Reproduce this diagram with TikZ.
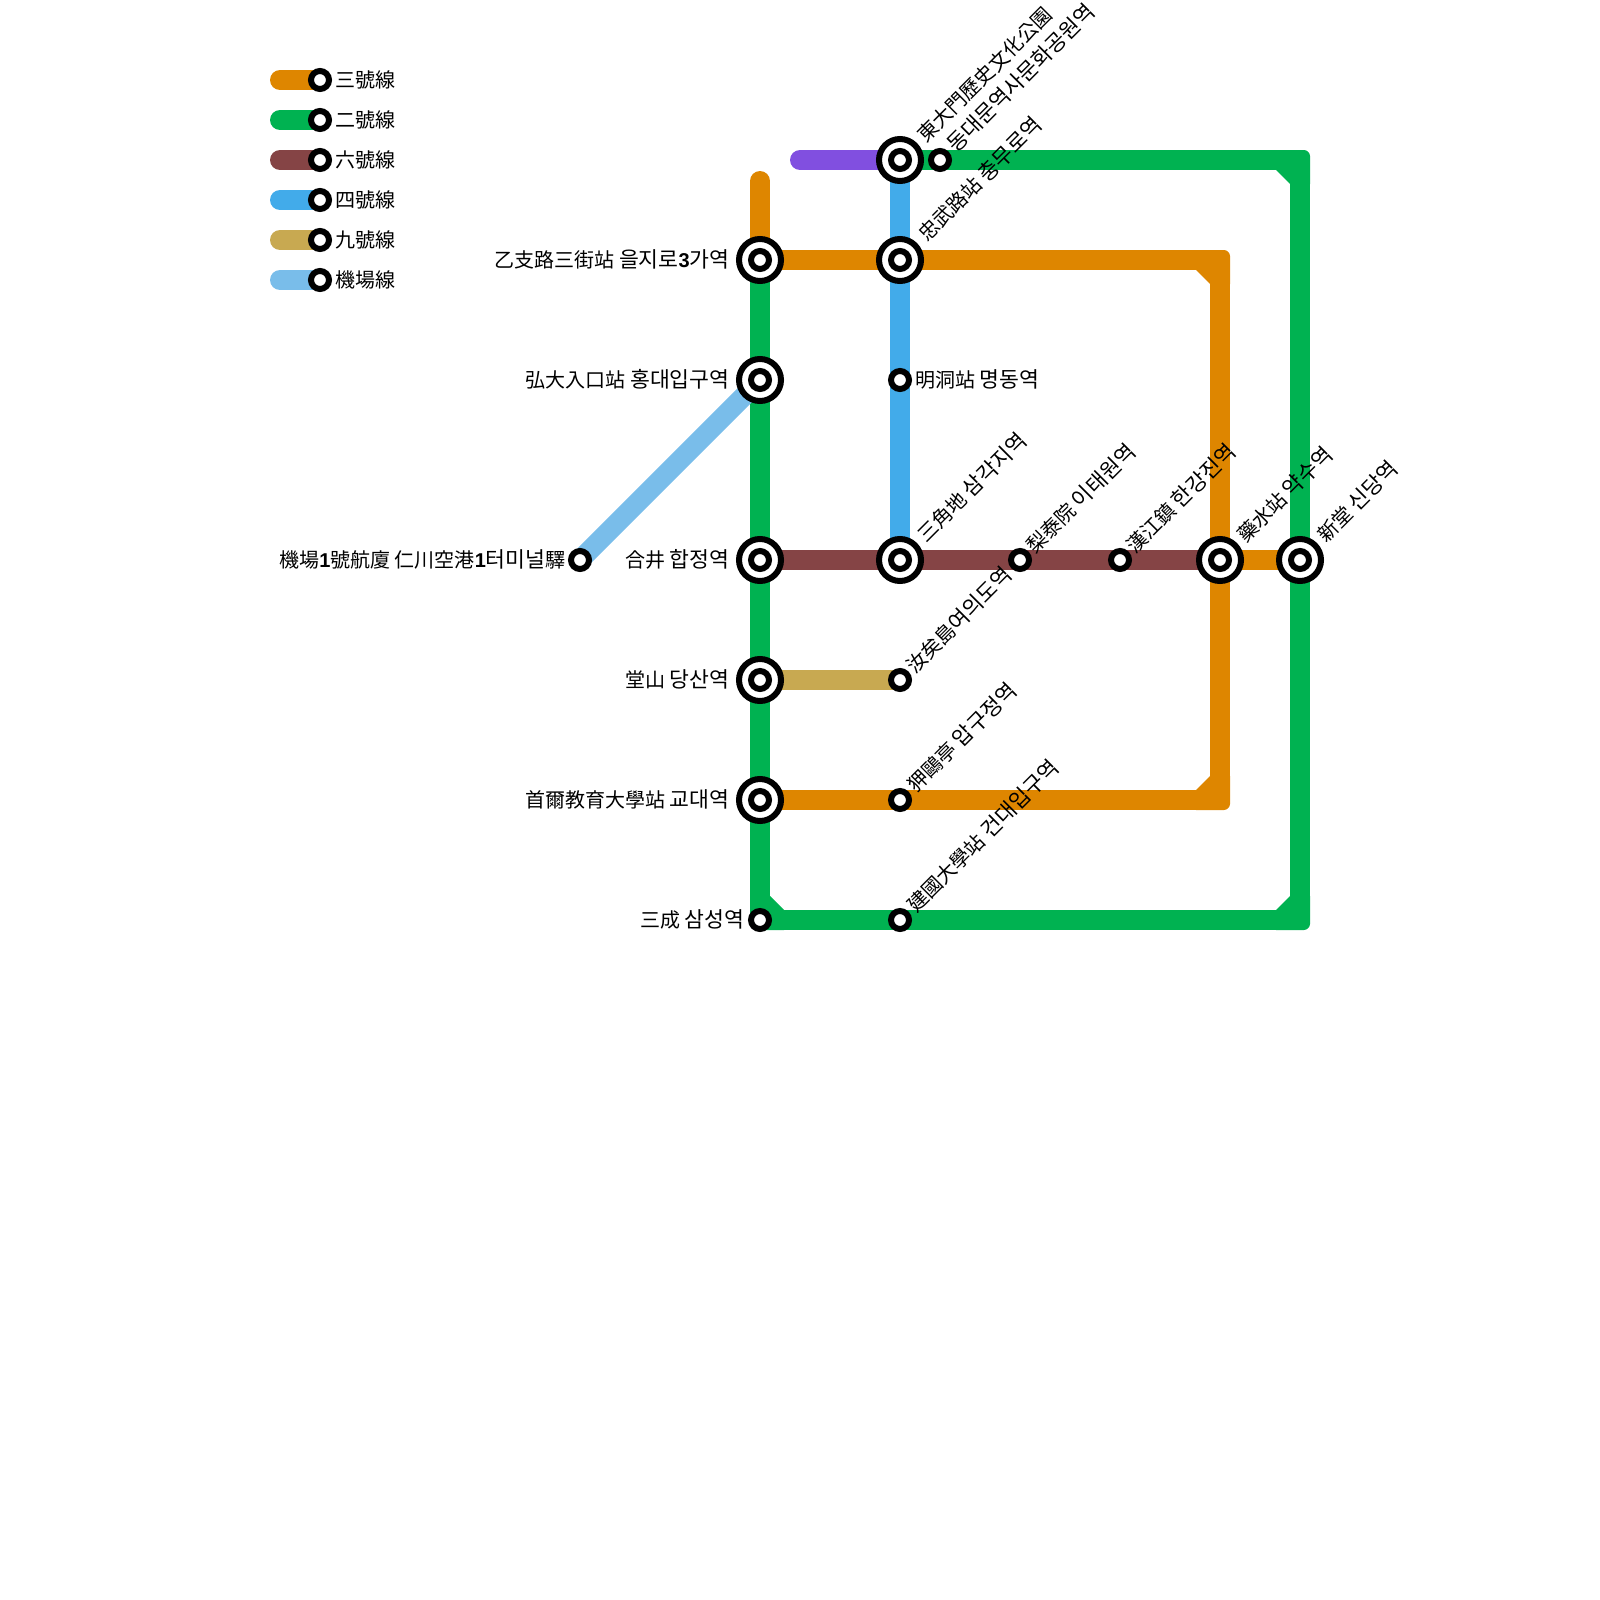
\documentclass[tikz,border=0pt]{standalone}
\usepackage{fontspec}
\setmainfont{Noto Sans CJK KR}
\newfontfamily\latinbold{Liberation Sans Bold}
\newfontfamily\hangulfont[Scale=1.08]{Noto Sans CJK KR}
\usetikzlibrary{backgrounds,calc}
\definecolor{lineorange}{HTML}{DE8600}
\definecolor{linegreen}{HTML}{00B251}
\definecolor{linebrown}{HTML}{854445}
\definecolor{lineblue}{HTML}{42ABEA}
\definecolor{linegold}{HTML}{C8A951}
\definecolor{linesky}{HTML}{79BDEA}
\definecolor{linepurple}{HTML}{814FE0}
\newcommand{\dgt}[1]{{\latinbold #1}}
\newcommand{\hg}[1]{{\hangulfont #1}}
\tikzset{
  track/.style={line width=10pt,line cap=butt,line join=round},
  rtrack/.style={line width=10pt,line cap=round},
  stnsmall/.style={circle,draw=black,fill=white,line width=3pt,minimum size=9pt,inner sep=0pt},
  stnbig/.style={circle,draw=black,fill=white,line width=3pt,minimum size=21pt,inner sep=0pt},
  lbl/.style={font=\fontsize{10}{10}\selectfont,inner sep=0pt,text height=8pt,text depth=0.8pt,text=black},
  lblr/.style={lbl,anchor=west},
  lbll/.style={lbl,anchor=east},
  lbld/.style={lbl,anchor=west,rotate=45},
}
\newcommand{\bigstn}[3]{\node[stnbig] (#1) at (#2,#3) {}; \node[stnsmall] (#1-in) at (#1.center) {};}
\newcommand{\trackcorner}[4]{%
  \begin{scope}[shift={(#2)},xscale=#3,yscale=#4]
    \fill[#1] (-24,-10) -- (4,-10) .. controls (7,-10) and (10,-7) .. (10,-4) -- (10,24) -- (-10,24) -- (-24,10) -- cycle;
  \end{scope}}
\begin{document}
\begin{tikzpicture}[x=0.5pt,y=-0.5pt]
\useasboundingbox (0,0) rectangle (1600,1600);
% stations
\bigstn{eulji}{760}{260}
\bigstn{hongdae}{760}{380}
\bigstn{hapjeong}{760}{560}
\bigstn{dangsan}{760}{680}
\bigstn{kyodae}{760}{800}
\bigstn{ddp}{900}{160}
\bigstn{chungmuro}{900}{260}
\bigstn{samgakji}{900}{560}
\bigstn{yaksu}{1220}{560}
\bigstn{sindang}{1300}{560}
\node[stnsmall] (samsung) at (760,920) {};
\node[stnsmall] (konkuk) at (900,920) {};
\node[stnsmall] (apgujeong) at (900,800) {};
\node[stnsmall] (yeouido) at (900,680) {};
\node[stnsmall] (myeongdong) at (900,380) {};
\node[stnsmall] (ddp2) at (940,160) {};
\node[stnsmall] (itaewon) at (1020,560) {};
\node[stnsmall] (hangangjin) at (1120,560) {};
\node[stnsmall] (incheon) at (580,560) {};
% corner points and free ends
\coordinate (cNE) at (1300,160);
\coordinate (cSE) at (1300,920);
\coordinate (oNE) at (1220,260);
\coordinate (oSE) at (1220,800);
\coordinate (cSW) at (760,920);
\coordinate (otop) at (760,181);
\coordinate (pstart) at (800,160);
% legend
\foreach \nm/\yy/\cc/\txt in {a/80/lineorange/三號線,b/120/linegreen/二號線,c/160/linebrown/六號線,d/200/lineblue/四號線,e/240/linegold/九號線,f/280/linesky/機場線}{
  \node[stnsmall] (leg\nm) at (320,\yy) {};
  \coordinate (legs\nm) at (280,\yy);
  \node[lblr] (legt\nm) at (335,\yy) {\txt};
  \begin{pgfonlayer}{background}
    \draw[rtrack,\cc] (legs\nm) -- (leg\nm.center);
  \end{pgfonlayer}
}
% labels
\node[lbll] (t1) at (730,260) {乙支路三街站 \hg{을지로}\dgt{3}\hg{가역}};
\node[lbll] (t2) at (730,380) {弘大入口站 \hg{홍대입구역}};
\node[lbll] (t3) at (730,560) {合井 \hg{합정역}};
\node[lbll] (t4) at (730,680) {堂山 \hg{당산역}};
\node[lbll] (t5) at (730,800) {首爾教育大學站 \hg{교대역}};
\node[lbll] (t6) at (745,920) {三成 \hg{삼성역}};
\node[lbll] (t7) at (566,560) {機場\dgt{1}號航廈 仁川空港\dgt{1}\hg{터미널}驛};
\node[lblr] (t8) at (915,380) {明洞站 \hg{명동역}};
\node[lbld] (t9) at ($(900,160)+(21,-21)$) {東大門歷史文化公園};
\node[lbld] (t10) at ($(940,160)+(11,-11)$) {\hg{동대문역사문화공원역}};
\node[lbld] (t11) at ($(900,260)+(22,-22)$) {忠武路站 \hg{충무로역}};
\node[lbld] (t12) at ($(900,560)+(21,-21)$) {三角地 \hg{삼각지역}};
\node[lbld] (t13) at ($(1020,560)+(10,-10)$) {梨泰院 \hg{이태원역}};
\node[lbld] (t14) at ($(1120,560)+(10,-10)$) {漢江鎮 \hg{한강진역}};
\node[lbld] (t15) at ($(1220,560)+(21,-21)$) {藥水站 \hg{약수역}};
\node[lbld] (t16) at ($(1300,560)+(21,-21)$) {新堂 \hg{신당역}};
\node[lbld] (t17) at ($(900,680)+(10,-10)$) {汝矣島\hg{여의도역}};
\node[lbld] (t18) at ($(900,800)+(11,-11)$) {狎鷗亭 \hg{압구정역}};
\node[lbld] (t19) at ($(900,920)+(11,-11)$) {建國大學站 \hg{건대입구역}};
% lines
\begin{pgfonlayer}{background}
  \draw[track,lineblue] (ddp.center) -- (samgakji.center);
  \draw[rtrack,linepurple] (pstart) -- (ddp.center);
  \draw[rtrack,lineorange] (otop) -- (eulji.center);
  \draw[track,lineorange] (eulji.center) -- (oNE) -- (oSE) -- (kyodae.center);
  \draw[track,lineorange] (yaksu.center) -- (sindang.center);
  \trackcorner{lineorange}{oNE}{1}{1}
  \trackcorner{lineorange}{oSE}{1}{-1}
  \draw[track,linegreen] (ddp.center) -- (cNE) -- (cSE) -- (cSW) -- (eulji.center);
  \trackcorner{linegreen}{cNE}{1}{1}
  \trackcorner{linegreen}{cSE}{1}{-1}
  \trackcorner{linegreen}{cSW}{-1}{-1}
  \draw[track,linebrown] (hapjeong.center) -- (yaksu.center);
  \draw[track,linegold] (dangsan.center) -- (yeouido.center);
  \draw[track,linesky] (hongdae.center) -- (incheon.center);
\end{pgfonlayer}
\end{tikzpicture}
\end{document}
